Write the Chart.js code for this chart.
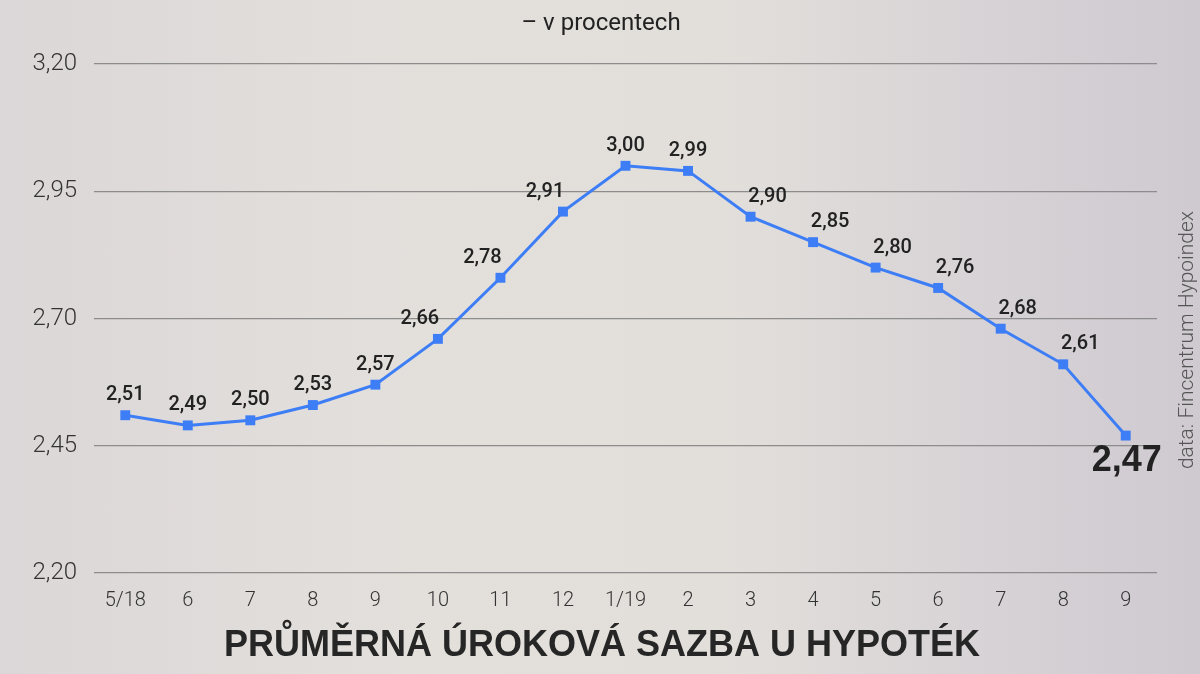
<!DOCTYPE html>
<html>
<head>
<meta charset="utf-8">
<script src="https://cdn.jsdelivr.net/npm/chart.js@4.4.1/dist/chart.umd.min.js"></script>
<style>
  html, body { margin: 0; padding: 0; }
  body {
    width: 1200px; height: 674px; overflow: hidden;
    background: linear-gradient(90deg, #dcd7d8 0%, #e3e0dc 35%, #e2dfdb 60%, #d6d1d5 85%, #cfcad0 100%);
  }
  #wrap { width: 1200px; height: 674px; }
</style>
</head>
<body>
<div id="wrap"><canvas id="rateChart" width="1200" height="674"></canvas></div>
<script>
    // data (Fincentrum Hypoindex)
    const months = ['5/18', '6', '7', '8', '9', '10', '11', '12', '1/19', '2', '3', '4', '5', '6', '7', '8', '9'];
    const rates = [2.51, 2.49, 2.50, 2.53, 2.57, 2.66, 2.78, 2.91, 3.00, 2.99, 2.90, 2.85, 2.80, 2.76, 2.68, 2.61, 2.47];
    const yTicks = [2.20, 2.45, 2.70, 2.95, 3.20];

    const fmt = v => v.toFixed(2).replace('.', ',');

    // labels above points, shifted sideways on the steep parts
    const pointLabels = {
        id: 'pointLabels',
        afterDatasetsDraw(chart, args, opts) {
            const ctx = chart.ctx;
            const pts = chart.getDatasetMeta(0).data;
            const last = pts.length - 1;
            ctx.save();
            ctx.fillStyle = '#222';
            ctx.textBaseline = 'middle';
            ctx.textAlign = 'center';
            pts.forEach((p, i) => {
                const txt = fmt(rates[i]);
                if (i === last) {
                    ctx.font = 'bold 36px "Liberation Sans", Arial, sans-serif';
                    ctx.fillText(txt, p.x + 1, p.y + 26);
                    return;
                }
                let dx = 0;
                if (opts.left.includes(i)) dx = -18;
                if (opts.right.includes(i)) dx = 17;
                ctx.font = '500 20px Roboto, "Liberation Sans", sans-serif';
                ctx.fillText(txt, p.x + dx, p.y - 20);
            });
            ctx.restore();
        }
    };

    const extraText = {
        id: 'extraText',
        afterDraw(chart) {
            const ctx = chart.ctx;
            ctx.save();
            ctx.fillStyle = '#222';
            ctx.textAlign = 'center';
            ctx.textBaseline = 'middle';
            ctx.font = '24px Roboto, "Liberation Sans", sans-serif';
            ctx.fillText('– v procentech', 601, 24);

            ctx.font = 'bold 36px "Liberation Sans", Arial, sans-serif';
            ctx.fillStyle = '#262626';
            ctx.fillText('PRŮMĚRNÁ ÚROKOVÁ SAZBA U HYPOTÉK', 602, 646, 762);

            ctx.translate(1188, 340);
            ctx.rotate(-Math.PI / 2);
            ctx.fillStyle = '#555';
            ctx.font = '300 21px Roboto, "Liberation Sans", sans-serif';
            ctx.fillText('data: Fincentrum Hypoindex', 0, 0);
            ctx.restore();
        }
    };

    const ctx = document.getElementById('rateChart').getContext('2d');
    const rateChart = new Chart(ctx, {
        type: 'line',
        data: {
            labels: months,
            datasets: [{
                label: 'Průměrná úroková sazba',
                data: rates,
                borderColor: '#3d7df5',
                backgroundColor: '#3d7df5',
                borderWidth: 3,
                pointStyle: 'rect',
                pointRadius: 7,
                pointBorderWidth: 0,
                tension: 0,
            }]
        },
        options: {
            responsive: false,
            animation: false,
            layout: {
                padding: { left: 0, right: 43, top: 64, bottom: 45 }
            },
            scales: {
                x: {
                    offset: true,
                    grid: { display: false, drawTicks: false },
                    border: { display: false },
                    ticks: {
                        padding: 16,
                        color: '#333',
                        font: { family: 'Roboto', size: 20, weight: 300 },
                        maxRotation: 0,
                        autoSkip: false
                    }
                },
                y: {
                    min: 2.2,
                    max: 3.2,
                    afterFit: s => { s.width = 94; },
                    afterBuildTicks: s => { s.ticks = yTicks.map(v => ({ value: v })); },
                    grid: { color: '#8c8c8c', lineWidth: 1.2, drawTicks: false },
                    border: { display: false },
                    ticks: {
                        padding: 17,
                        color: '#333',
                        font: { family: 'Roboto', size: 24, weight: 300 },
                        callback: v => fmt(v)
                    }
                }
            },
            plugins: {
                legend: { display: false },
                tooltip: { enabled: false },
                pointLabels: {
                    left: [5, 6, 7],
                    right: [10, 11, 12, 13, 14, 15]
                }
            }
        },
        plugins: [pointLabels, extraText]
    });
</script>
</body>
</html>
